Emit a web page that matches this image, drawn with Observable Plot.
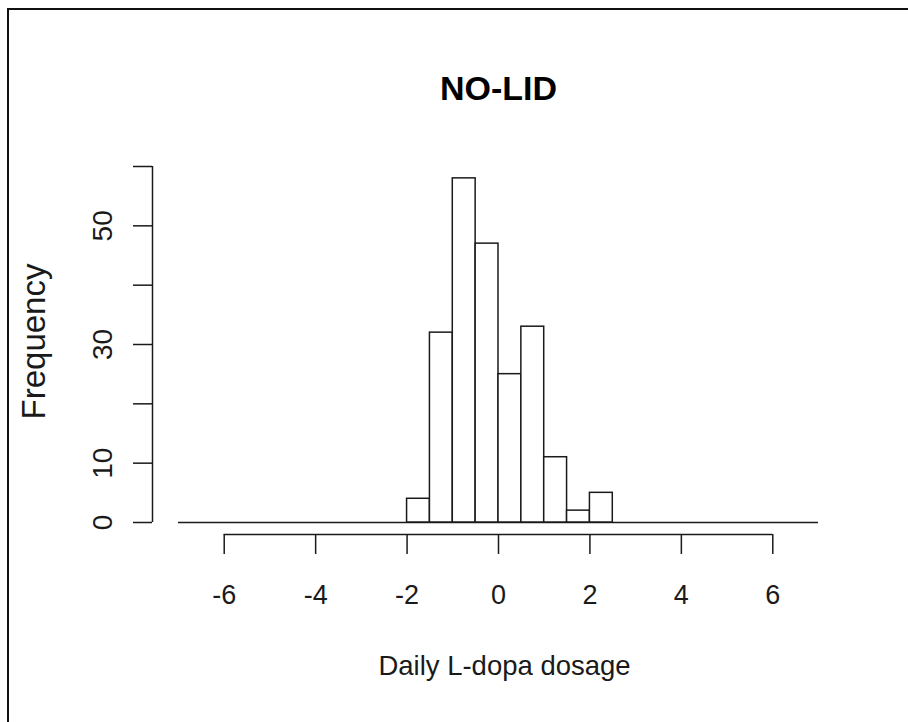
<!DOCTYPE html>
<html>
<head>
<meta charset="utf-8">
<script src="https://cdn.jsdelivr.net/npm/d3@7"></script>
<script src="https://cdn.jsdelivr.net/npm/@observablehq/plot@0.6"></script>
<style>
  html, body { margin: 0; padding: 0; background: #fff; }
  #wrap { position: relative; width: 908px; height: 722px; overflow: hidden; }
  #box { position: absolute; left: 7px; top: 8px; width: 1000px; height: 1000px;
         border-left: 2px solid #111; border-top: 2px solid #111; pointer-events: none; }
  #chart { position: absolute; left: 0; top: 0; }
</style>
</head>
<body>
<div id="wrap"><div id="chart"></div><div id="box"></div></div>
<script>
const title = "NO-LID";
const xLabel = "Daily L-dopa dosage";
const yLabel = "Frequency";
const binStart = [-7, -6.5, -6, -5.5, -5, -4.5, -4, -3.5, -3, -2.5, -2, -1.5, -1, -0.5,
                  0, 0.5, 1, 1.5, 2, 2.5, 3, 3.5, 4, 4.5, 5, 5.5, 6, 6.5];
const binWidth = 0.5;
const counts = [0, 0, 0, 0, 0, 0, 0, 0, 0, 0, 4, 32, 58, 47,
                25, 33, 11, 2, 5, 0, 0, 0, 0, 0, 0, 0, 0, 0];
const xTicks = [-6, -4, -2, 0, 2, 4, 6];
const yTicks = [0, 10, 20, 30, 40, 50, 60];
const yTickLabels = [0, 10, 30, 50];
const xDomain = [-7, 7];
const yDomain = [0, 60];

const bins = binStart.map((s, i) => ({x1: s, x2: s + binWidth, n: counts[i]}));
const ink = "#1a1a1a";
const font = "'Liberation Sans', Arial, Helvetica, sans-serif";

const chart = Plot.plot({
  width: 908,
  height: 722,
  marginLeft: 178,
  marginRight: 90,
  marginTop: 166,
  marginBottom: 200,
  style: {fontFamily: font, background: "white", color: ink},
  x: {domain: xDomain, axis: null},
  y: {domain: yDomain, axis: null},
  marks: [
    // baseline of the histogram (zero-count bins)
    Plot.ruleY([0], {x1: d3.min(binStart), x2: d3.max(binStart) + binWidth, stroke: ink, strokeWidth: 1.5}),
    Plot.rectY(bins.filter(d => d.n > 0), {x1: "x1", x2: "x2", y1: 0, y2: "n", fill: "white", stroke: ink, strokeWidth: 1.5}),
    // x axis
    Plot.ruleY([0], {x1: d3.min(xTicks), x2: d3.max(xTicks), dy: 12, stroke: ink, strokeWidth: 1.5}),
    Plot.axisX({ticks: xTicks, tickSize: 20, dy: 12, tickFormat: () => "", label: null, stroke: ink, strokeWidth: 1.5}),
    Plot.text(xTicks, {x: d => d, frameAnchor: "bottom", lineAnchor: "middle", dy: 73, text: d => String(d), fontSize: 27, fill: ink}),
    // y axis
    Plot.ruleX([xDomain[0]], {y1: d3.min(yTicks), y2: d3.max(yTicks), dx: -26, stroke: ink, strokeWidth: 1.5}),
    Plot.axisY({ticks: yTicks, tickSize: 19, dx: -26, tickFormat: () => "", label: null, stroke: ink, strokeWidth: 1.5}),
    Plot.text(yTickLabels, {y: d => d, frameAnchor: "left", textAnchor: "middle", lineAnchor: "middle", dx: -75, rotate: -90, text: d => String(d), fontSize: 28, fill: ink}),
    // titles
    Plot.text([title], {frameAnchor: "top", lineAnchor: "middle", dy: -77, fontSize: 34, fontWeight: "bold", fill: "#000"}),
    Plot.text([xLabel], {frameAnchor: "bottom", lineAnchor: "middle", dx: 6, dy: 144, fontSize: 27.5, fill: ink}),
    Plot.text([yLabel], {frameAnchor: "left", textAnchor: "middle", lineAnchor: "middle", dx: -144, dy: -3, rotate: -90, fontSize: 33, fill: ink})
  ]
});
document.getElementById("chart").appendChild(chart);
</script>
</body>
</html>
